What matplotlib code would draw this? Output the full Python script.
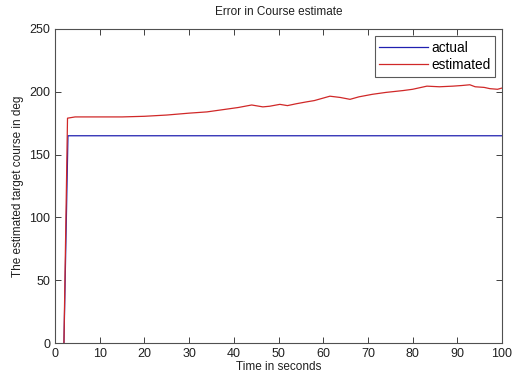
import matplotlib
matplotlib.use("Agg")
import matplotlib.pyplot as plt

plt.rcParams['font.family'] = ['Liberation Sans', 'DejaVu Sans']

time_actual = [2.0, 2.9, 100.0]
course_actual = [0.0, 165.0, 165.0]

time_est = [2.0, 2.8, 4.5, 10, 15, 20, 25, 30, 34, 38, 41, 44, 46.5, 48, 50.3, 52, 54,
            56.3, 58, 60, 61.5, 63.8, 66, 68, 71, 74, 77.9, 80, 83.2, 86, 89, 91,
            92.8, 94, 96, 97.3, 99, 100]
course_est = [0, 179, 180, 180, 180, 180.5, 181.5, 183, 184, 186, 187.5, 189.5, 188,
              188.5, 190, 189, 190.5, 192, 193, 195, 196.5, 195.5, 194, 196, 198, 199.5,
              201, 202, 204.5, 204, 204.5, 205, 205.6, 204, 203.5, 202.5, 202, 203]

x_ticks = [0, 10, 20, 30, 40, 50, 60, 70, 80, 90, 100]
y_ticks = [0, 50, 100, 150, 200, 250]

fig = plt.figure(figsize=(5.12, 3.75), dpi=100)
ax = fig.add_axes([55/512, 1-343/375, (502-55)/512, (343-29)/375])

ax.plot(time_actual, course_actual, color='#2020b0', lw=0.9, label='actual')
ax.plot(time_est, course_est, color='#d02828', lw=0.9, label='estimated')

ax.set_xlim(0, 100)
ax.set_ylim(0, 250)
ax.set_xticks(x_ticks)
ax.set_yticks(y_ticks)
ax.tick_params(direction='in', top=True, right=True, labelsize=9, length=4,
               color='#404040', labelcolor='#202020', width=0.7)
for s in ax.spines.values():
    s.set_color('#505050')
    s.set_linewidth(0.8)

ax.set_title('Error in Course estimate', fontsize=8.5, pad=10, color='#202020')
ax.set_xlabel('Time in seconds', fontsize=8.5, labelpad=1, color='#202020')
ax.set_ylabel('The estimated target course in deg', fontsize=8.5, labelpad=4, color='#202020')

leg = ax.legend(loc='upper right', fontsize=9.8, frameon=True, fancybox=False,
                edgecolor='#303030', handlelength=3.6, borderaxespad=0.5,
                labelspacing=0.25, handletextpad=0.2, borderpad=0.35)
leg.get_frame().set_linewidth(0.8)

fig.savefig('out.png', dpi=100)
